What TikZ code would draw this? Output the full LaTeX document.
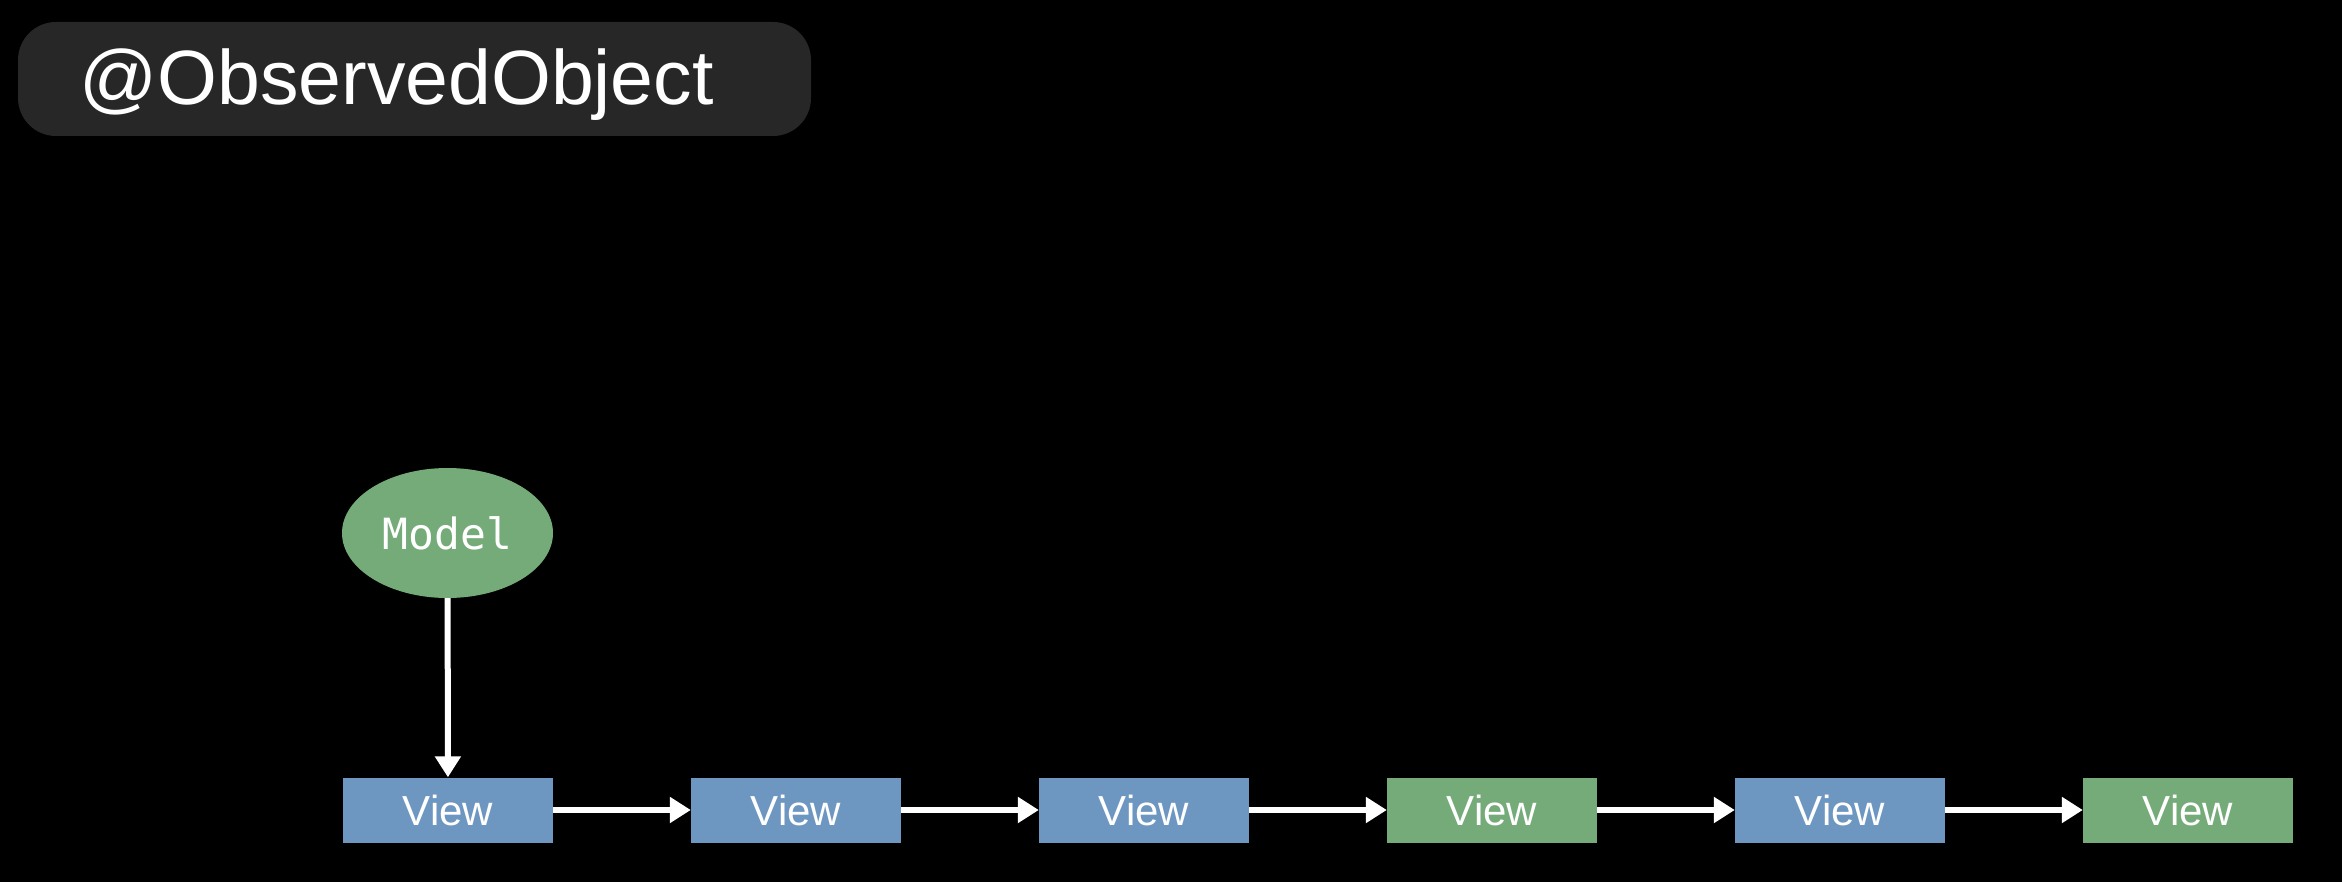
\documentclass[tikz,border=0pt]{standalone}
\usepackage{fontspec}
\setmainfont{Liberation Sans}
\newfontfamily\codefont{DejaVu Sans Mono}
\usetikzlibrary{arrows.meta,shapes.geometric}
\definecolor{viewblue}{HTML}{6D97C1}
\definecolor{viewgreen}{HTML}{75AB79}
\definecolor{titlebg}{HTML}{272727}
\tikzset{
  viewbox/.style={rectangle, minimum width=210pt, minimum height=65pt, inner sep=0pt,
    text=white, font=\fontsize{42}{42}\selectfont},
  bluebox/.style={viewbox, fill=viewblue},
  greenbox/.style={viewbox, fill=viewgreen},
  modelnode/.style={ellipse, fill=viewgreen, minimum width=211pt, minimum height=130pt,
    inner sep=0pt, text=white, font=\codefont\fontsize{43}{43}\selectfont},
  flow/.style={draw=white, line width=6pt, -{Triangle[length=21pt,width=25pt]}}
}
\begin{document}
\begin{tikzpicture}[x=1pt,y=-1pt]
  % canvas
  \fill[black] (0,0) rectangle (2342,882);
  \useasboundingbox (0,0) rectangle (2342,882);

  % title badge
  \fill[titlebg, rounded corners=38pt] (18,22) rectangle (811,136);
  \node[anchor=base west, inner sep=0pt, text=white,
        font=\fontsize{77}{77}\selectfont] (title) at (79,105) {@ObservedObject};

  % model
  \node[modelnode] (model) at (447.5,533) {Model};

  % chain of views
  \node[bluebox]  (v1) at (448,810)  {View};
  \node[bluebox]  (v2) at (796,810)  {View};
  \node[bluebox]  (v3) at (1144,810) {View};
  \node[greenbox] (v4) at (1492,810) {View};
  \node[bluebox]  (v5) at (1840,810) {View};
  \node[greenbox] (v6) at (2188,810) {View};

  % connectors
  \draw[flow] (model) -- (v1);
  \draw[flow] (v1) -- (v2);
  \draw[flow] (v2) -- (v3);
  \draw[flow] (v3) -- (v4);
  \draw[flow] (v4) -- (v5);
  \draw[flow] (v5) -- (v6);
\end{tikzpicture}
\end{document}
